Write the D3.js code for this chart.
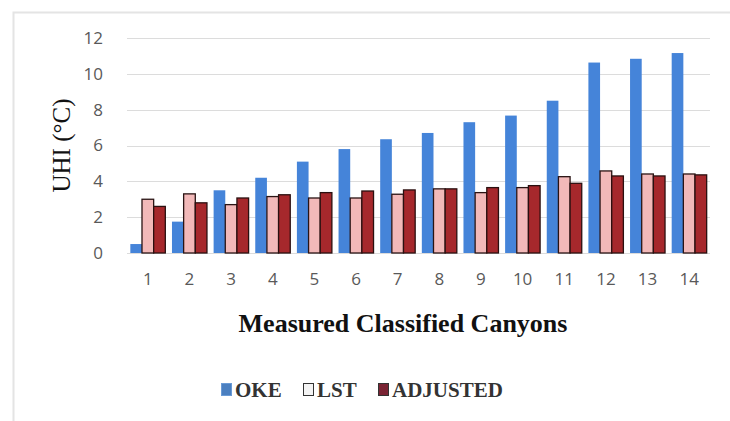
<!DOCTYPE html>
<html>
<head>
<meta charset="utf-8">
<script src="https://cdn.jsdelivr.net/npm/d3@7"></script>
<style>
body { margin:0; background:#fff; }
</style>
</head>
<body>
<div id="chart"></div>
<script>
// canyon classes and UHI values (°C) per method
var canyons = ["1","2","3","4","5","6","7","8","9","10","11","12","13","14"];
var series = ["OKE", "LST", "ADJUSTED"];
var oke = [0.5, 1.75, 3.5, 4.2, 5.1, 5.8, 6.35, 6.7, 7.3, 7.67, 8.5, 10.63, 10.84, 11.16];
var lst = [3.0, 3.3, 2.7, 3.15, 3.07, 3.07, 3.28, 3.58, 3.37, 3.65, 4.26, 4.58, 4.41, 4.41];
var adjusted = [2.6, 2.8, 3.07, 3.25, 3.37, 3.46, 3.52, 3.58, 3.65, 3.76, 3.89, 4.3, 4.3, 4.36];
var yTicks = [0, 2, 4, 6, 8, 10, 12];

var W = 730, H = 421;
var margin = { left:127, right:20, top:38, bottom:168 };
var width = W - margin.left - margin.right;
var height = H - margin.top - margin.bottom;

var svg = d3.select("#chart")
    .append("svg")
        .attr("width", W)
        .attr("height", H);

// faint outer frame
svg.append("path")
    .attr("d", "M13.5," + H + "V12.5H" + W)
    .attr("fill", "none")
    .attr("stroke", "#e4e4e4")
    .attr("stroke-width", 2);

var g = svg.append("g")
    .attr("transform", "translate(" + margin.left + "," + margin.top + ")");

var x0 = d3.scaleBand()
    .domain(canyons)
    .range([0, width])
    .paddingInner(0.16)
    .paddingOuter(0.08);

var x1 = d3.scaleBand()
    .domain(series)
    .range([0, x0.bandwidth()]);

var y = d3.scaleLinear()
    .domain([0, 12])
    .range([height, 0]);

var colors = { OKE:"#4584d9", LST:"#f2b9b9", ADJUSTED:"#a6282c" };
var strokes = { OKE:"none", LST:"#2a1414", ADJUSTED:"#2a1010" };

// gridlines
g.append("g")
    .selectAll("line")
    .data(yTicks)
    .enter()
    .append("line")
        .attr("x1", 0)
        .attr("x2", width)
        .attr("y1", function(d){ return Math.round(y(d)) + 0.5; })
        .attr("y2", function(d){ return Math.round(y(d)) + 0.5; })
        .attr("stroke", "#dcdcdc")
        .attr("stroke-width", 1);

// y axis labels
var yAxisCall = d3.axisLeft(y)
    .tickValues(yTicks)
    .tickSize(0)
    .tickPadding(24);
var yAxis = g.append("g")
    .attr("class", "y-axis")
    .call(yAxisCall);
yAxis.select(".domain").remove();
yAxis.selectAll("text")
    .attr("font-family", "'Open Sans', sans-serif")
    .attr("font-size", "17px")
    .attr("fill", "#595959");

// x axis labels
var xAxisCall = d3.axisBottom(x0)
    .tickSize(0)
    .tickPadding(20);
var xAxis = g.append("g")
    .attr("class", "x-axis")
    .attr("transform", "translate(0," + height + ")")
    .call(xAxisCall);
xAxis.select(".domain").remove();
xAxis.selectAll("text")
    .attr("font-family", "'Open Sans', sans-serif")
    .attr("font-size", "17px")
    .attr("fill", "#595959");

// bars
var rows = canyons.map(function(c, i){
    return { canyon:c, OKE:oke[i], LST:lst[i], ADJUSTED:adjusted[i] };
});

var groups = g.selectAll(".grp")
    .data(rows)
    .enter()
    .append("g")
        .attr("class", "grp")
        .attr("transform", function(d){ return "translate(" + x0(d.canyon) + ",0)"; });

groups.selectAll("rect")
    .data(function(d){
        return series.map(function(s){ return { key:s, value:d[s] }; });
    })
    .enter()
    .append("rect")
        .attr("x", function(d){ return x1(d.key); })
        .attr("y", function(d){ return y(d.value); })
        .attr("width", x1.bandwidth())
        .attr("height", function(d){ return height - y(d.value); })
        .attr("fill", function(d){ return colors[d.key]; })
        .attr("stroke", function(d){ return strokes[d.key]; })
        .attr("stroke-width", 1.3);

// axis titles
g.append("text")
    .attr("x", -height / 2)
    .attr("y", -57)
    .attr("transform", "rotate(-90)")
    .attr("text-anchor", "middle")
    .attr("font-family", "'Liberation Serif', 'Times New Roman', serif")
    .attr("font-size", "25px")
    .attr("fill", "#111")
    .text("UHI (°C)");

svg.append("text")
    .attr("x", 403)
    .attr("y", 332)
    .attr("text-anchor", "middle")
    .attr("font-family", "'Liberation Serif', 'Times New Roman', serif")
    .attr("font-weight", "bold")
    .attr("font-size", "26px")
    .attr("fill", "#111")
    .text("Measured Classified Canyons");

// legend
var legendColors = { OKE:"#4a7fc0", LST:"#f4f4f4", ADJUSTED:"#7a2434" };
var legendX = [221, 303, 378];
var legend = svg.selectAll(".legend")
    .data(series)
    .enter()
    .append("g")
        .attr("class", "legend")
        .attr("transform", function(d, i){ return "translate(" + legendX[i] + ",383)"; });

legend.append("rect")
    .attr("x", 0.5)
    .attr("y", 0.5)
    .attr("width", 10)
    .attr("height", 12)
    .attr("fill", function(d){ return legendColors[d]; })
    .attr("stroke", function(d){ return d == "OKE" ? "#6a9bd6" : "#333"; })
    .attr("stroke-width", 1);

legend.append("text")
    .attr("x", 14)
    .attr("y", 14)
    .attr("font-family", "'Liberation Serif', 'Times New Roman', serif")
    .attr("font-weight", "bold")
    .attr("font-size", "21px")
    .attr("fill", "#333")
    .text(function(d){ return d; });
</script>
</body>
</html>
